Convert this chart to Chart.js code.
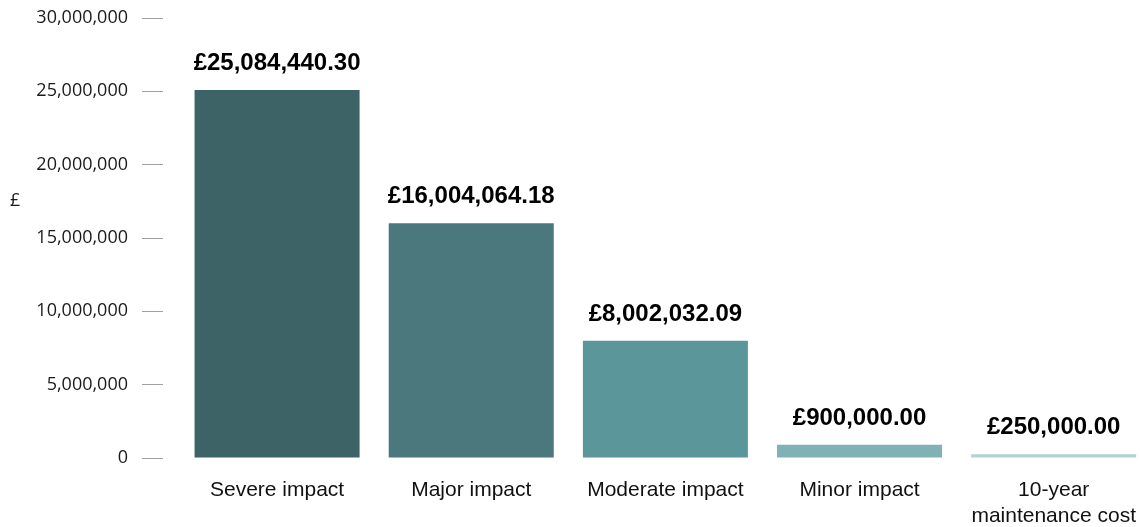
<!DOCTYPE html>
<html>
<head>
<meta charset="utf-8">
<script src="https://cdn.jsdelivr.net/npm/chart.js@4"></script>
<style>
  html, body { margin: 0; padding: 0; background: #fff; overflow: hidden; }
  #wrap { width: 1155px; height: 527px; }
</style>
</head>
<body>
<div id="wrap"><canvas id="costs" width="1155" height="527"></canvas></div>
<script>
var categories = ['Severe impact', 'Major impact', 'Moderate impact', 'Minor impact', ['10-year', 'maintenance cost']];
var costs = [25084440.30, 16004064.18, 8002032.09, 900000.00, 250000.00];
var barColours = ['#3e6366', '#4b787c', '#5b969b', '#80b1b4', '#afd3d4'];
var yTicks = [0, 5000000, 10000000, 15000000, 20000000, 25000000, 30000000];

function withCommas(n) {
    return String(n).replace(/\B(?=(\d{3})+(?!\d))/g, ',');
}
function pounds(v) {
    var whole = Math.floor(v);
    var pence = Math.round((v - whole) * 100);
    return '£' + withCommas(whole) + '.' + (pence < 10 ? '0' : '') + pence;
}

// value labels above bars + the £ axis caption
var barLabels = {
    id: 'barLabels',
    afterDatasetsDraw: function(chart) {
        var ctx = chart.ctx;
        var meta = chart.getDatasetMeta(0);
        ctx.save();
        ctx.fillStyle = '#000';
        ctx.font = 'bold 24px "Liberation Sans", Arial, sans-serif';
        ctx.textAlign = 'center';
        ctx.textBaseline = 'alphabetic';
        meta.data.forEach(function(bar, i) {
            ctx.fillText(pounds(costs[i]), bar.x, bar.y - 20);
        });
        ctx.font = '18px "Open Sans", sans-serif';
        ctx.fillStyle = '#1a1a1a';
        ctx.textAlign = 'left';
        ctx.textBaseline = 'middle';
        ctx.fillText('£', 10, 201);
        ctx.restore();
    }
};

var ctx = document.getElementById('costs').getContext('2d');
var myChart = new Chart(ctx, {
    type: 'bar',
    data: {
        labels: categories,
        datasets: [{
            label: 'Cost',
            data: costs,
            backgroundColor: barColours,
            borderWidth: 0,
            barPercentage: 0.85,
            categoryPercentage: 1
        }]
    },
    options: {
        responsive: false,
        animation: false,
        layout: { padding: { top: 18, bottom: 0, left: 0, right: 0 } },
        plugins: {
            legend: { display: false },
            tooltip: { enabled: false }
        },
        scales: {
            x: {
                afterFit: function(scale) { scale.height = 69; },
                grid: { display: false, drawTicks: false },
                border: { display: false },
                ticks: {
                    color: '#111',
                    padding: 19,
                    maxRotation: 0,
                    font: { family: '"Liberation Sans", Arial, sans-serif', size: 21, lineHeight: 1.25 }
                }
            },
            y: {
                min: 0,
                max: 30000000,
                afterFit: function(scale) {
                    scale.width = 180;
                    scale.paddingTop = 0;
                    scale.paddingBottom = 0;
                },
                afterBuildTicks: function(scale) {
                    scale.ticks = yTicks.map(function(v) { return { value: v }; });
                },
                border: { display: false },
                grid: {
                    drawOnChartArea: false,
                    drawTicks: true,
                    tickLength: 38,
                    tickColor: '#a0a0a0',
                    tickWidth: 1,
                    tickBorderDash: [21, 17]
                },
                ticks: {
                    color: '#1a1a1a',
                    padding: 14,
                    font: { family: '"Open Sans", sans-serif', size: 18 },
                    callback: function(v) { return withCommas(v); }
                }
            }
        }
    },
    plugins: [barLabels]
});
</script>
</body>
</html>
